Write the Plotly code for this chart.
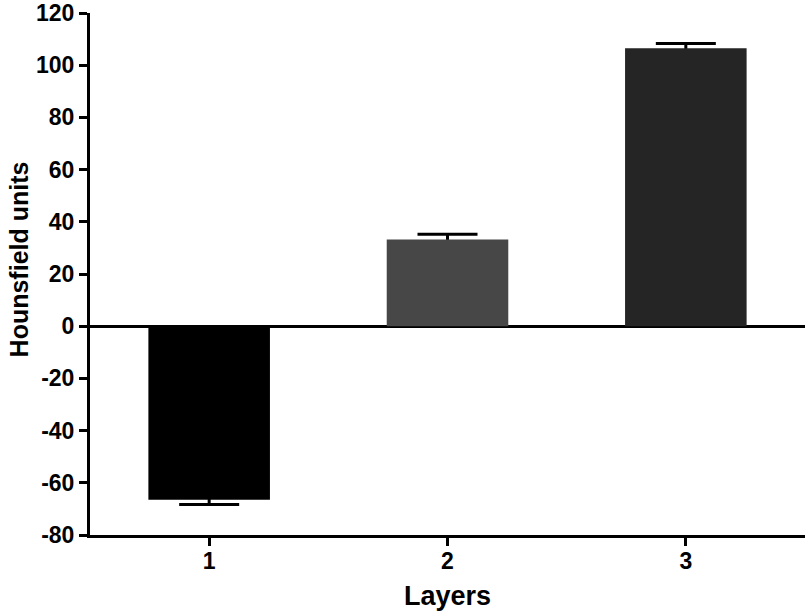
import plotly.graph_objects as go

# Data
layers = ["1", "2", "3"]
hu_mean = [-66.5, 33.2, 106.5]
hu_err = [1.8, 2.0, 1.8]
bar_colors = ["#000000", "#474747", "#252525"]
y_ticks = [-80, -60, -40, -20, 0, 20, 40, 60, 80, 100, 120]
y_labels = [str(v) for v in y_ticks]  # plain hyphen for negatives, as in the original

font_family = "Liberation Sans, Arial, sans-serif"

fig = go.Figure()
# error bars on a transparent bar, then the real bars drawn over them
# so only the outer half of each error bar is visible
fig.add_trace(go.Bar(
    x=layers, y=hu_mean,
    marker=dict(color="rgba(0,0,0,0)", line=dict(width=0)),
    error_y=dict(type="data", array=hu_err, color="#000000", thickness=3, width=30),
    width=0.51, hoverinfo="skip",
))
fig.add_trace(go.Bar(
    x=layers, y=hu_mean,
    marker=dict(color=bar_colors, line=dict(width=0)),
    width=0.51,
))

fig.update_layout(
    width=805, height=614,
    margin=dict(l=90, r=0, t=13, b=79),
    paper_bgcolor="white", plot_bgcolor="white",
    showlegend=False, barmode="overlay",
    font=dict(family=font_family, color="black"),
    xaxis=dict(
        type="category", range=[-0.5, 2.5], automargin=False,
        showline=True, linecolor="black", linewidth=3,
        ticks="outside", ticklen=8, tickwidth=3, tickcolor="black",
        ticklabelstandoff=-5,
        tickfont=dict(size=23, family=font_family, weight="bold"),
        title=dict(text="<b>Layers</b>", font=dict(size=27), standoff=14),
        showgrid=False,
    ),
    yaxis=dict(
        range=[-80, 120], tickvals=y_ticks, ticktext=y_labels, automargin=False,
        showline=True, linecolor="black", linewidth=3,
        ticks="outside", ticklen=8, tickwidth=3, tickcolor="black",
        tickfont=dict(size=23, family=font_family, weight="bold"),
        showgrid=False,
        zeroline=True, zerolinecolor="black", zerolinewidth=3,
    ),
)

# y title sits a little above the axis middle in the original, so place it by hand
fig.add_annotation(
    text="<b>Hounsfield units</b>", textangle=-90, showarrow=False,
    xref="paper", yref="paper", x=-0.1, y=0.527,
    xanchor="center", yanchor="middle",
    font=dict(size=25, family=font_family, color="black"),
)

# drop the browser's default body margin so the figure sits at the page corner
fig.write_html("out.html", config={"displayModeBar": False},
               post_script="document.body.style.margin = '0';")
